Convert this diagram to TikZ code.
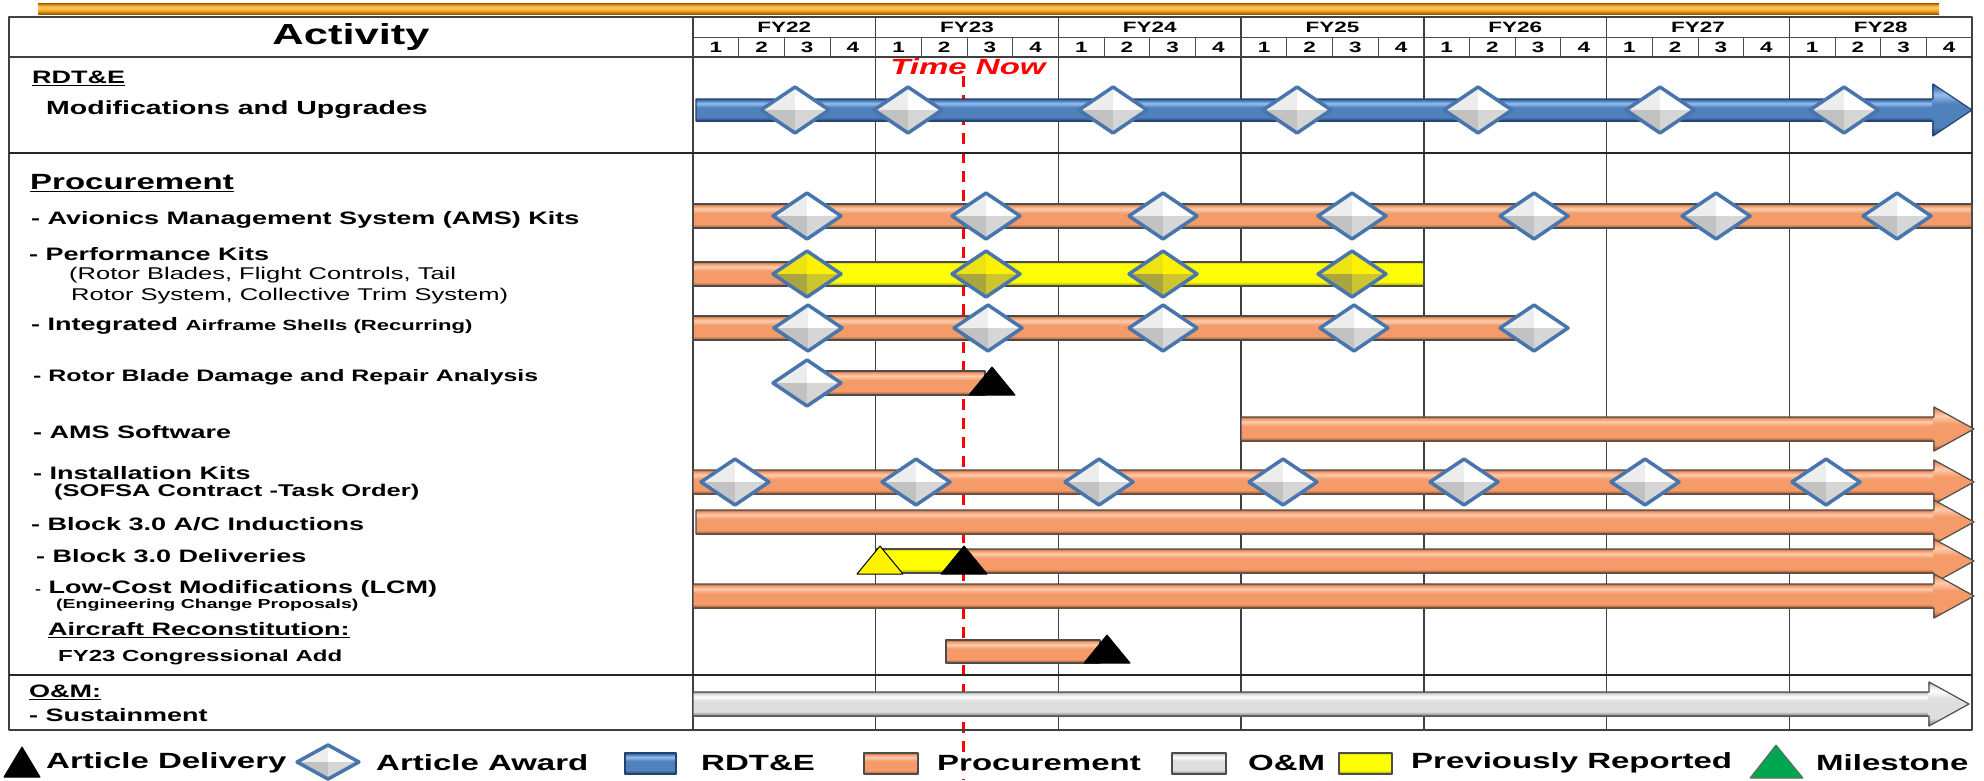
\documentclass[tikz,border=0pt]{standalone}
\usepackage{fontspec}
\setmainfont[FakeStretch=1.5]{Liberation Sans}
\usepackage{tikz}
\usetikzlibrary{calc}

\definecolor{rdtblue}{RGB}{79,129,189}
\definecolor{rdtdark}{RGB}{36,66,112}
\definecolor{rdtlight}{RGB}{150,190,240}
\definecolor{procor}{RGB}{245,155,105}
\definecolor{procdark}{RGB}{150,80,42}
\definecolor{proclight}{RGB}{255,205,175}
\definecolor{prevyel}{RGB}{255,255,0}
\definecolor{prevdark}{RGB}{150,150,0}
\definecolor{omgray}{RGB}{222,222,222}
\definecolor{omdark}{RGB}{120,120,120}
\definecolor{awardblue}{RGB}{72,118,172}
\definecolor{bandor}{RGB}{245,165,25}
\definecolor{banddark}{RGB}{150,90,0}
\definecolor{mstgreen}{RGB}{0,165,80}
\definecolor{tnowred}{RGB}{255,0,0}

\pgfdeclareverticalshading{procshade}{100bp}{color(0bp)=(procdark); color(25bp)=(procdark); color(33bp)=(procor); color(56bp)=(procor); color(65bp)=(proclight); color(71bp)=(procor); color(75bp)=(procdark!60!procor); color(100bp)=(procdark!60!procor)}
\pgfdeclareverticalshading{rdtshade}{100bp}{color(0bp)=(rdtdark); color(25bp)=(rdtdark); color(34bp)=(rdtblue); color(56bp)=(rdtblue); color(65bp)=(rdtlight); color(71bp)=(rdtblue); color(75bp)=(rdtdark!60!rdtblue); color(100bp)=(rdtdark!60!rdtblue)}
\pgfdeclareverticalshading{prevshade}{100bp}{color(0bp)=(prevdark); color(25bp)=(prevdark); color(34bp)=(prevyel); color(71bp)=(prevyel); color(75bp)=(prevdark!60!prevyel); color(100bp)=(prevdark!60!prevyel)}
\pgfdeclareverticalshading{omshade}{100bp}{color(0bp)=(omdark); color(25bp)=(omdark); color(34bp)=(omgray); color(56bp)=(omgray); color(65bp)=(white); color(71bp)=(omgray); color(75bp)=(omdark!60!omgray); color(100bp)=(omdark!60!omgray)}
\pgfdeclareverticalshading{bandshade}{100bp}{color(0bp)=(banddark); color(25bp)=(banddark); color(40bp)=(bandor); color(55bp)=(bandor!60!white); color(65bp)=(bandor); color(75bp)=(banddark); color(100bp)=(banddark)}

% diamond: x, y, four facet colours
\newcommand{\dmd}[6]{%
  \fill[#3] (#1,#2) -- (#1-34,#2) -- (#1,#2-23) -- cycle;
  \fill[#4] (#1,#2) -- (#1,#2-23) -- (#1+34,#2) -- cycle;
  \fill[#5] (#1,#2) -- (#1-34,#2) -- (#1,#2+23) -- cycle;
  \fill[#6] (#1,#2) -- (#1+34,#2) -- (#1,#2+23) -- cycle;
  \draw[awardline] (#1-34,#2) -- (#1,#2-23) -- (#1+34,#2) -- (#1,#2+23) -- cycle;}
\newcommand{\award}[2]{\dmd{#1}{#2}{gray!14}{white}{gray!48}{gray!32}}
\newcommand{\awardy}[2]{\dmd{#1}{#2}{yellow!92!black}{yellow}{yellow!62!black}{yellow!78!black}}
% delivery triangle: [fill] x, y
\newcommand{\dlv}[3][black]{%
  \filldraw[fill=#1, draw=black, line width=1] (#2-23,#3+14) -- (#2,#3-14) -- (#2+23,#3+14) -- cycle;}
% arrow bar: [fill style] from x, tip x, y
\newcommand{\barrow}[4][procfill]{%
  \shade[#1] (#2,#4-12) rectangle (#3-40,#4+12);
  \shade[#1] (#3-40.5,#4-22) -- (#3,#4) -- (#3-40.5,#4+22) -- cycle;
  \draw[baredge] (#2,#4-12) -- (#3-40,#4-12) -- (#3-40,#4-22) -- (#3,#4)
    -- (#3-40,#4+22) -- (#3-40,#4+12) -- (#2,#4+12) -- cycle;}

\begin{document}
\begin{tikzpicture}[x=1pt, y=-1pt, line join=round,
  grid/.style={draw=black!75, line width=1.4},
  qgrid/.style={draw=black!70, line width=0.9},
  sect/.style={draw=black!85, line width=2.6},
  baredge/.style={draw=black!70, line width=1.2},
  awardline/.style={draw=awardblue, line width=3.5},
  procfill/.style={shading=procshade},
  rdtfill/.style={shading=rdtshade},
  omfill/.style={shading=omshade},
  procbar/.style={procfill, baredge},
  prevbar/.style={shading=prevshade, baredge},
  tnowline/.style={draw=tnowred, line width=3, dash pattern=on 11pt off 8pt},
  hdr/.style={inner sep=0, font=\fontsize{15}{15}\selectfont\bfseries},
  item/.style={anchor=west, inner sep=0, font=\fontsize{18}{20}\selectfont\bfseries},
  subitem/.style={anchor=west, inner sep=0, font=\fontsize{17}{19}\selectfont},
  key/.style={anchor=west, inner sep=0, font=\fontsize{22}{24}\selectfont\bfseries}]
  \useasboundingbox (0,0) rectangle (1984,780);
  \fill[white] (0,0) rectangle (1984,780);

  % gold band
  \shade[shading=bandshade] (38,3) rectangle (1939,14);

  % time now
  \node[inner sep=0, text=tnowred, font=\fontsize{22}{22}\selectfont\bfseries\itshape] (tnow) at (968,67) {Time Now};
  \coordinate (tnowtop) at (963,76);
  \coordinate (tnowend) at (963,780);
  \draw[tnowline] (tnowtop) -- (tnowend);

  % table
  \draw[grid] (9,17) rectangle (1972,730);
  \draw[grid] (693,17) -- (693,730);
  \draw[grid] (9,57) -- (1972,57);
  \draw[qgrid] (693,37) -- (1972,37);
  \foreach \i in {1,...,6}
    \draw[grid] (693+182.71*\i,17) -- (693+182.71*\i,730);
  \foreach \i in {1,...,27}
    \draw[qgrid] (693+45.68*\i,37) -- (693+45.68*\i,57);
  \draw[sect] (9,153) -- (1972,153);
  \draw[sect] (9,675) -- (1972,675);

  \node[inner sep=0, font=\fontsize{29}{29}\selectfont\bfseries] (act) at (351,37) {Activity};
  \foreach \y [count=\i from 0] in {22,...,28}
    \node[hdr] (fy\y) at (693+182.71*\i+91.36,27) {FY\y};
  \foreach \q in {0,...,27}{
    \pgfmathtruncatemacro\qn{mod(\q,4)+1}
    \node[hdr] (q\q) at (693+45.68*\q+22.84,47.5) {\qn};
  }

  % RDT&E
  \shade[rdtfill] (696,99) rectangle (1933,121);
  \shade[rdtfill] (1932.5,84) -- (1972,110) -- (1932.5,136) -- cycle;
  \draw[baredge, draw=rdtdark] (696,99) -- (1933,99) -- (1933,84) -- (1972,110)
    -- (1933,136) -- (1933,121) -- (696,121) -- cycle;
  \foreach \x in {795,908,1113,1297,1478,1660,1844} \award{\x}{110};

  % procurement
  \shadedraw[procbar] (693,204) rectangle (1972,228);
  \foreach \x in {807,986,1163,1352,1534,1716,1897} \award{\x}{216};

  \shadedraw[procbar] (693,262) rectangle (820,286);
  \shadedraw[prevbar] (807,262) rectangle (1424,286);
  \foreach \x in {807,986,1163,1352} \awardy{\x}{274};

  \shadedraw[procbar] (693,316) rectangle (1534,340);
  \foreach \x in {808,988,1163,1354,1534} \award{\x}{328};

  \shadedraw[procbar] (807,371) rectangle (985,395);
  \award{807}{383}
  \dlv{992}{381}

  \barrow{1241}{1974}{429}

  \barrow{693}{1974}{482}
  \foreach \x in {735,916,1099,1283,1464,1645,1826} \award{\x}{482};

  \barrow{696}{1974}{522}

  \barrow{964}{1974}{561}
  \shadedraw[prevbar] (876,549) rectangle (964,573);
  \dlv[yellow]{880}{560}
  \dlv{964}{560}

  \barrow{693}{1974}{596}

  \shadedraw[procbar] (946,640) rectangle (1100,663);
  \dlv{1107}{649}

  % O&M
  \barrow[omfill]{693}{1969}{704}

  % activity labels
  \node[item] (rdte) at (32,78) {\underline{RDT\&E}};
  \node[item, font=\fontsize{19}{21}\selectfont\bfseries] (modup) at (46,110) {Modifications and Upgrades};
  \node[item, font=\fontsize{22}{24}\selectfont\bfseries] (proc) at (30,183) {\underline{Procurement}};
  \node[item] (amskit) at (31,220) {- Avionics Management System (AMS) Kits};
  \node[item] (perfkit) at (29,254) {- Performance Kits};
  \node[subitem] (perfa) at (69,275) {(Rotor Blades, Flight Controls, Tail};
  \node[subitem] (perfb) at (71,296) {Rotor System, Collective Trim System)};
  \node[item] (ias) at (31,326) {- Integrated {\fontsize{14.7}{17}\selectfont Airframe Shells (Recurring)}};
  \node[item, font=\fontsize{16.6}{19}\selectfont\bfseries] (rbdra) at (33,377) {- Rotor Blade Damage and Repair Analysis};
  \node[item] (amssw) at (33,432) {- AMS Software};
  \node[item] (inst) at (33,473) {- Installation Kits};
  \node[item, font=\fontsize{17}{19}\selectfont\bfseries] (sofsa) at (54,492) {(SOFSA Contract -Task Order)};
  \node[item] (induct) at (31,524) {- Block 3.0 A/C Inductions};
  \node[item] (deliv) at (36,556) {- Block 3.0 Deliveries};
  \node[item] (lcm) at (35,589) {{\fontsize{12}{12}\selectfont -} Low-Cost Modifications (LCM)};
  \node[item, font=\fontsize{13}{14}\selectfont\bfseries] (ecp) at (56,605) {(Engineering Change Proposals)};
  \node[item] (acrec) at (48,630) {\underline{Aircraft Reconstitution:}};
  \node[item, font=\fontsize{16}{18}\selectfont\bfseries] (fyadd) at (58,657) {FY23 Congressional Add};
  \node[item] (om) at (29,692) {\underline{O\&M:}};
  \node[item] (sust) at (29,715) {- Sustainment};

  % legend
  \filldraw[fill=black, draw=black, line width=1] (4,777) -- (22,747) -- (40,777) -- cycle;
  \node[key] (kdlv) at (46,763) {Article Delivery};
  \begin{scope}[shift={(328,762)}, xscale=0.91, yscale=0.74]
    \award{0}{0}
  \end{scope}
  \node[key] (kawd) at (376,763) {Article Award};
  \shadedraw[rdtfill, baredge, draw=rdtdark] (625,753) rectangle (676,774);
  \node[key] (krdt) at (701,763) {RDT\&E};
  \shadedraw[procbar] (864,753) rectangle (918,774);
  \node[key] (kproc) at (937,763) {Procurement};
  \shadedraw[omfill, baredge] (1172,753) rectangle (1226,774);
  \node[key] (kom) at (1248,763) {O\&M};
  \shadedraw[prevbar] (1339,753) rectangle (1392,774);
  \node[key] (kprev) at (1411,763) {Previously Reported};
  \filldraw[fill=mstgreen, draw=black!60, line width=1] (1750,778) -- (1776,745) -- (1803,778) -- cycle;
  \node[key] (kmst) at (1816,763) {Milestone};
\end{tikzpicture}
\end{document}
